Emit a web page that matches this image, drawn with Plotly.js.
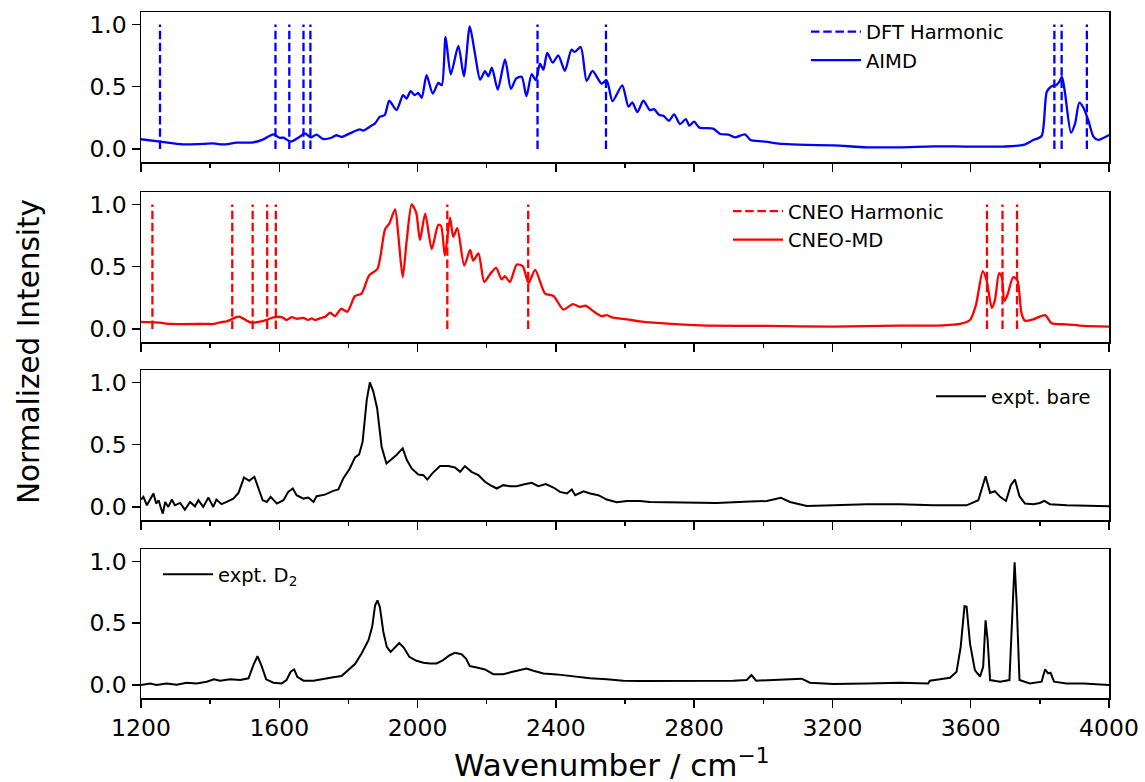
<!DOCTYPE html>
<html>
<head>
<meta charset="utf-8">
<script src="https://cdn.plot.ly/plotly-3.0.1.min.js"></script>
<style>
html,body{margin:0;padding:0;background:#fff;}
#chart{width:1145px;height:782px;}
</style>
</head>
<body>
<div id="chart"></div>
<script>
// ---------- DATA ----------
const dftHarmonic = [1255, 1589, 1629, 1670, 1690, 2347, 2545, 3842, 3863, 3936];
const cneoHarmonic = [1233, 1464, 1523, 1565, 1590, 2086, 2320, 3647, 3692, 3734];

const aimdX = [1200,1255,1322,1380,1409,1435,1477,1525,1554,1583,1600,1612,1633,1655,1674,1691,1708,1727,1751,1765,1780,1804,1833,1843,1862,1877,1891,1905,1918,1939,1958,1968,1980,1992,2002,2012,2026,2044,2060,2070,2081,2096,2118,2134,2151,2166,2181,2195,2205,2215,2232,2253,2270,2285,2301,2315,2330,2342,2354,2364,2375,2391,2407,2426,2445,2455,2472,2489,2506,2532,2547,2564,2592,2610,2621,2636,2653,2672,2684,2699,2711,2727,2742,2759,2776,2786,2800,2815,2855,2875,2899,2918,2947,2963,3000,3058,3125,3203,3299,3395,3492,3588,3694,3752,3781,3805,3820,3834,3847,3856,3864,3873,3890,3902,3914,3926,3940,3955,3969,4000];
const aimdY = [0.078,0.059,0.037,0.040,0.045,0.036,0.050,0.053,0.077,0.117,0.090,0.090,0.059,0.090,0.125,0.093,0.115,0.080,0.090,0.110,0.096,0.125,0.157,0.147,0.179,0.205,0.259,0.272,0.387,0.312,0.432,0.405,0.464,0.432,0.450,0.410,0.592,0.445,0.530,0.512,0.899,0.600,0.827,0.584,0.984,0.765,0.557,0.624,0.584,0.653,0.477,0.720,0.483,0.565,0.579,0.424,0.600,0.552,0.685,0.637,0.771,0.693,0.752,0.627,0.797,0.779,0.819,0.547,0.627,0.525,0.552,0.384,0.510,0.339,0.373,0.296,0.387,0.312,0.320,0.272,0.267,0.227,0.277,0.200,0.240,0.187,0.219,0.171,0.163,0.120,0.115,0.093,0.117,0.072,0.061,0.040,0.032,0.029,0.013,0.013,0.021,0.019,0.019,0.032,0.072,0.104,0.459,0.504,0.512,0.539,0.579,0.445,0.131,0.205,0.371,0.331,0.232,0.099,0.072,0.112];

const cneoX = [1200,1255,1284,1390,1411,1429,1448,1467,1484,1506,1520,1544,1568,1583,1607,1621,1636,1650,1670,1684,1694,1703,1723,1733,1747,1761,1779,1797,1819,1838,1860,1884,1906,1918,1935,1944,1957,1969,1983,1996,2007,2022,2041,2060,2068,2079,2094,2103,2115,2135,2152,2161,2176,2193,2209,2227,2243,2253,2267,2287,2304,2321,2340,2369,2393,2422,2449,2468,2487,2508,2532,2547,2566,2605,2643,2682,2769,2836,3010,3203,3395,3521,3569,3598,3615,3635,3646,3661,3670,3682,3690,3697,3706,3723,3735,3747,3757,3781,3815,3834,3877,3926,4000];
const cneoY = [0.056,0.050,0.040,0.040,0.040,0.053,0.061,0.085,0.098,0.066,0.050,0.058,0.077,0.093,0.095,0.072,0.095,0.082,0.088,0.072,0.085,0.072,0.090,0.098,0.130,0.103,0.162,0.138,0.265,0.284,0.430,0.483,0.801,0.846,0.960,0.761,0.416,0.721,1.000,0.934,0.714,0.926,0.642,0.836,0.828,0.589,0.894,0.740,0.809,0.509,0.634,0.549,0.607,0.377,0.438,0.491,0.398,0.424,0.377,0.517,0.504,0.369,0.475,0.284,0.265,0.156,0.199,0.178,0.186,0.143,0.103,0.111,0.090,0.077,0.061,0.050,0.034,0.027,0.024,0.019,0.027,0.029,0.040,0.072,0.191,0.464,0.390,0.170,0.231,0.448,0.416,0.225,0.271,0.416,0.390,0.125,0.066,0.077,0.111,0.045,0.037,0.024,0.019];

const bareX = [1200,1207,1217,1227,1236,1244,1251,1258,1263,1270,1279,1289,1298,1313,1327,1342,1356,1366,1380,1395,1409,1418,1433,1448,1467,1482,1498,1513,1528,1540,1552,1564,1575,1593,1612,1626,1639,1650,1670,1684,1699,1708,1732,1756,1771,1785,1804,1819,1831,1841,1853,1862,1872,1883,1896,1910,1925,1939,1957,1969,1983,2002,2017,2028,2044,2065,2089,2108,2123,2137,2156,2176,2195,2210,2229,2248,2267,2287,2306,2330,2349,2371,2393,2412,2432,2446,2456,2480,2499,2523,2547,2576,2605,2643,2672,2769,2865,2962,3010,3029,3051,3077,3126,3203,3299,3395,3492,3588,3622,3643,3656,3670,3685,3702,3716,3728,3741,3757,3781,3800,3813,3829,3878,4000];
const bareY = [0.060,0.081,0.013,0.067,0.108,0.027,0.054,-0.013,-0.054,0.040,0.000,0.059,0.013,0.032,-0.022,0.040,0.005,0.054,0.000,0.075,0.000,0.059,0.022,0.040,0.067,0.113,0.237,0.210,0.242,0.148,0.054,0.040,0.081,0.027,0.054,0.121,0.148,0.094,0.067,0.075,0.040,0.086,0.099,0.129,0.140,0.228,0.309,0.398,0.422,0.524,0.860,1.000,0.927,0.793,0.484,0.349,0.382,0.417,0.470,0.376,0.309,0.261,0.255,0.220,0.274,0.328,0.328,0.317,0.282,0.328,0.282,0.255,0.202,0.175,0.148,0.175,0.167,0.167,0.180,0.194,0.167,0.183,0.156,0.121,0.108,0.140,0.094,0.126,0.108,0.094,0.059,0.038,0.048,0.048,0.040,0.035,0.032,0.043,0.048,0.059,0.073,0.040,0.008,0.013,0.022,0.022,0.013,0.013,0.054,0.247,0.113,0.126,0.081,0.048,0.175,0.220,0.086,0.027,0.022,0.032,0.048,0.022,0.013,0.005];

const d2X = [1200,1207,1226,1245,1274,1303,1332,1361,1390,1411,1429,1458,1487,1511,1525,1537,1549,1562,1583,1607,1621,1633,1643,1652,1670,1699,1728,1756,1780,1800,1819,1838,1858,1869,1877,1884,1891,1901,1911,1922,1935,1947,1960,1976,1997,2017,2036,2055,2074,2093,2108,2127,2140,2151,2171,2195,2219,2248,2272,2296,2315,2335,2364,2402,2422,2451,2499,2547,2595,2643,2721,2817,2913,2952,2966,2979,3029,3087,3111,3135,3203,3299,3395,3477,3482,3511,3540,3559,3571,3582,3588,3598,3612,3627,3636,3643,3649,3656,3685,3712,3721,3727,3733,3741,3771,3805,3815,3824,3831,3841,3877,3926,4000];
const d2Y = [0.000,0.005,0.013,0.000,0.013,0.003,0.019,0.013,0.027,0.046,0.035,0.046,0.040,0.054,0.161,0.233,0.153,0.046,0.019,0.013,0.040,0.107,0.126,0.067,0.035,0.035,0.046,0.062,0.072,0.121,0.169,0.255,0.362,0.475,0.643,0.684,0.630,0.429,0.308,0.268,0.308,0.340,0.303,0.228,0.196,0.180,0.174,0.174,0.201,0.241,0.260,0.249,0.214,0.153,0.142,0.126,0.088,0.088,0.105,0.121,0.134,0.115,0.094,0.086,0.080,0.067,0.054,0.046,0.035,0.032,0.032,0.035,0.035,0.040,0.080,0.035,0.040,0.046,0.051,0.019,0.008,0.013,0.019,0.013,0.035,0.046,0.059,0.107,0.308,0.638,0.635,0.335,0.121,0.067,0.147,0.523,0.362,0.040,0.027,0.040,0.630,0.992,0.657,0.040,0.013,0.027,0.126,0.094,0.099,0.027,0.013,0.013,0.000];

const xTickVals = [1200,1600,2000,2400,2800,3200,3600,4000];
const xMinorVals = [1400,1800,2200,2600,3000,3400,3800];
const yTickVals = [0.0,0.5,1.0];

// ---------- BUILD ----------
function sticks(freqs){
  const xs=[], ys=[];
  freqs.forEach(f=>{ xs.push(f,f,null); ys.push(0,1,null); });
  return {xs, ys};
}
const dftS = sticks(dftHarmonic);
const cneoS = sticks(cneoHarmonic);

const FONT = 'DejaVu Sans, sans-serif';
const dash = '8.5px,3.7px';

const traces = [
  {x: dftS.xs, y: dftS.ys, xaxis:'x', yaxis:'y', mode:'lines', name:'DFT Harmonic', legend:'legend',
   line:{color:'#0000ff', width:2.3, dash:dash}, connectgaps:false, hoverinfo:'skip'},
  {x: aimdX, y: aimdY, xaxis:'x', yaxis:'y', mode:'lines', name:'AIMD', legend:'legend',
   line:{color:'#0000ff', width:2.3, shape:'spline', smoothing:0.7}},
  {x: cneoS.xs, y: cneoS.ys, xaxis:'x2', yaxis:'y2', mode:'lines', name:'CNEO Harmonic', legend:'legend2',
   line:{color:'#ff0000', width:2.3, dash:dash}, connectgaps:false, hoverinfo:'skip'},
  {x: cneoX, y: cneoY, xaxis:'x2', yaxis:'y2', mode:'lines', name:'CNEO-MD', legend:'legend2',
   line:{color:'#ff0000', width:2.3, shape:'spline', smoothing:0.7}},
  {x: bareX, y: bareY, xaxis:'x3', yaxis:'y3', mode:'lines', name:'expt. bare', legend:'legend3',
   line:{color:'#000000', width:2}},
  {x: d2X, y: d2Y, xaxis:'x4', yaxis:'y4', mode:'lines', name:'expt. D<sub>2</sub>', legend:'legend4',
   line:{color:'#000000', width:2}}
];

function xAxis(anchor, showLabels){
  return {
    anchor: anchor, range:[1200,4000], tickvals:xTickVals, showticklabels:showLabels,
    ticks:'outside', ticklen:8, tickwidth:1.5, tickcolor:'#000',
    minor:{tickvals:xMinorVals, ticks:'outside', ticklen:4.5, tickwidth:1.3, tickcolor:'#000', showgrid:false},
    showline:true, mirror:true, linecolor:'#000', linewidth:1.5,
    showgrid:false, zeroline:false,
    tickfont:{family:FONT, size:23.5, color:'#000'}
  };
}
function yAxis(anchor, dom){
  return {
    anchor: anchor, domain: dom, range:[-0.105,1.1], tickvals:yTickVals, tickformat:'.1f',
    ticks:'outside', ticklen:8, tickwidth:1.5, tickcolor:'#000',
    showline:true, mirror:true, linecolor:'#000', linewidth:1.5,
    showgrid:false, zeroline:false,
    tickfont:{family:FONT, size:23.5, color:'#000'}
  };
}

const plotL = 141, plotR = 1109, plotT = 12, plotB = 698;
const W = plotR - plotL, H = plotB - plotT;
const px2x = p => (p - plotL)/W;
const px2y = p => (plotB - p)/H;

function legendAt(left, top){
  return {x: px2x(left), y: px2y(top), xanchor:'left', yanchor:'top',
          bgcolor:'rgba(0,0,0,0)', borderwidth:0, itemwidth:50,
          font:{family:FONT, size:19.5, color:'#000'}, tracegroupgap:0};
}

const layout = {
  width:1145, height:782,
  margin:{l:plotL, r:1145-plotR, t:plotT, b:782-plotB},
  paper_bgcolor:'#fff', plot_bgcolor:'#fff',
  showlegend:true,
  font:{family:FONT, color:'#000'},
  xaxis: xAxis('y', false),
  xaxis2: xAxis('y2', false),
  xaxis3: xAxis('y3', false),
  xaxis4: xAxis('y4', true),
  yaxis: yAxis('x', [px2y(162), px2y(12)]),
  yaxis2: yAxis('x2', [px2y(342), px2y(192)]),
  yaxis3: yAxis('x3', [px2y(520), px2y(370)]),
  yaxis4: yAxis('x4', [px2y(698), px2y(549)]),
  legend: legendAt(806, 12.5),
  legend2: legendAt(728, 192),
  legend3: legendAt(931, 377),
  legend4: legendAt(158, 555),
  annotations:[
    {text:'Wavenumber / cm<sup>−1</sup>', xref:'paper', yref:'paper', x:px2x(611), y:px2y(763),
     xanchor:'center', yanchor:'middle', showarrow:false, font:{family:FONT, size:31, color:'#000'}},
    {text:'Normalized Intensity', xref:'paper', yref:'paper', x:px2x(29), y:px2y(352),
     xanchor:'center', yanchor:'middle', textangle:-90, showarrow:false, font:{family:FONT, size:29.5, color:'#000'}}
  ]
};

Plotly.newPlot('chart', traces, layout, {displayModeBar:false, staticPlot:true});
</script>
</body>
</html>
